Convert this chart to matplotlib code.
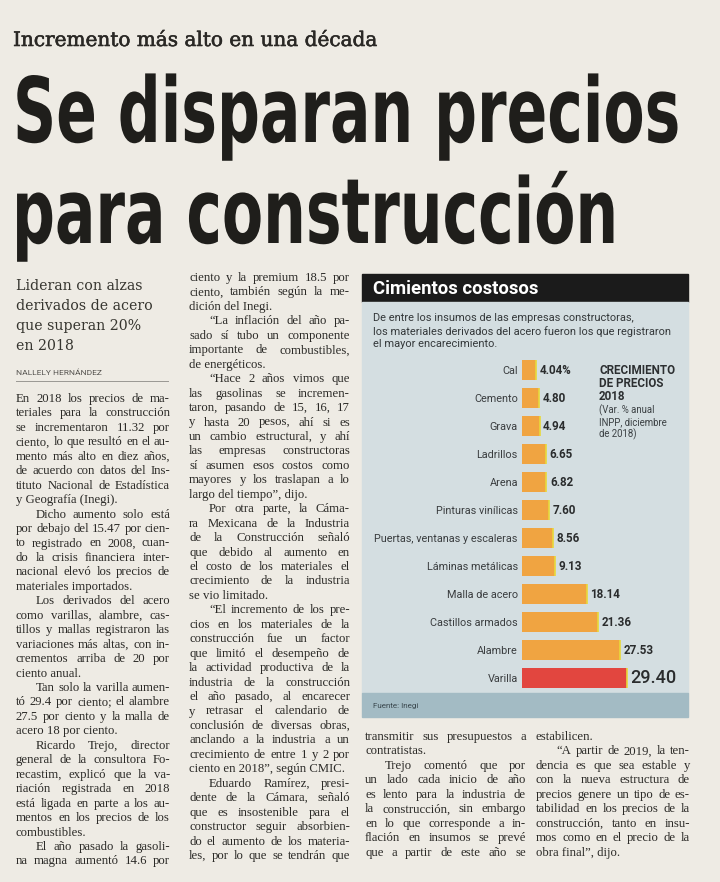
import matplotlib
matplotlib.use("Agg")
import matplotlib.pyplot as plt
from matplotlib.patches import Rectangle
from matplotlib.font_manager import FontProperties
from matplotlib.patheffects import AbstractPathEffect, withStroke
from matplotlib.transforms import Affine2D

# ---- chart data ----
cats = ['Cal', 'Cemento', 'Grava', 'Ladrillos', 'Arena', 'Pinturas vinílicas',
        'Puertas, ventanas y escaleras', 'Láminas metálicas', 'Malla de acero',
        'Castillos armados', 'Alambre', 'Varilla']
vals = [4.04, 4.80, 4.94, 6.65, 6.82, 7.60, 8.56, 9.13, 18.14, 21.36, 27.53, 29.40]
val_labels = ['4.04%', '4.80', '4.94', '6.65', '6.82', '7.60', '8.56', '9.13',
              '18.14', '21.36', '27.53', '29.40']

chart_title = 'Cimientos costosos'
chart_sub = ['De entre los insumos de las empresas constructoras,',
             'los materiales derivados del acero fueron los que registraron',
             'el mayor encarecimiento.']
note_bold = ['CRECIMIENTO', 'DE PRECIOS', '2018']
note_small = ['(Var. % anual', 'INPP, diciembre', 'de 2018)']
source = 'Fuente: Inegi'

# ---- article text ----
kicker = 'Incremento más alto en una década'
headline = ['Se disparan precios', 'para construcción']
deck = ['Lideran con alzas', 'derivados de acero', 'que superan 20%', 'en 2018']
byline = 'NALLELY HERNÁNDEZ'

# '>' marks first line of a paragraph
col1 = ['En 2018 los precios de ma-', 'teriales para la construcción',
        'se incrementaron 11.32 por', 'ciento, lo que resultó en el au-',
        'mento más alto en diez años,', 'de acuerdo con datos del Ins-',
        'tituto Nacional de Estadística', 'y Geografía (Inegi).',
        '>Dicho aumento solo está', 'por debajo del 15.47 por cien-',
        'to registrado en 2008, cuan-', 'do la crisis financiera inter-',
        'nacional elevó los precios de', 'materiales importados.',
        '>Los derivados del acero', 'como varillas, alambre, cas-',
        'tillos y mallas registraron las', 'variaciones más altas, con in-',
        'crementos arriba de 20 por', 'ciento anual.',
        '>Tan solo la varilla aumen-', 'tó 29.4 por ciento; el alambre',
        '27.5 por ciento y la malla de', 'acero 18 por ciento.',
        '>Ricardo Trejo, director', 'general de la consultora Fo-',
        'recastim, explicó que la va-', 'riación registrada en 2018',
        'está ligada en parte a los au-', 'mentos en los precios de los',
        'combustibles.',
        '>El año pasado la gasoli-', 'na magna aumentó 14.6 por']
col2 = ['ciento y la premium 18.5 por', 'ciento, también según la me-',
        'dición del Inegi.',
        '>“La inflación del año pa-', 'sado sí tubo un componente',
        'importante de combustibles,', 'de energéticos.',
        '>“Hace 2 años vimos que', 'las gasolinas se incremen-',
        'taron, pasando de 15, 16, 17', 'y hasta 20 pesos, ahí si es',
        'un cambio estructural, y ahí', 'las empresas constructoras',
        'sí asumen esos costos como', 'mayores y los traslapan a lo',
        'largo del tiempo”, dijo.',
        '>Por otra parte, la Cáma-', 'ra Mexicana de la Industria',
        'de la Construcción señaló', 'que debido al aumento en',
        'el costo de los materiales el', 'crecimiento de la industria',
        'se vio limitado.',
        '>“El incremento de los pre-', 'cios en los materiales de la',
        'construcción fue un factor', 'que limitó el desempeño de',
        'la actividad productiva de la', 'industria de la construcción',
        'el año pasado, al encarecer', 'y retrasar el calendario de',
        'conclusión de diversas obras,', 'anclando a la industria a un',
        'crecimiento de entre 1 y 2 por', 'ciento en 2018”, según CMIC.',
        '>Eduardo Ramírez, presi-', 'dente de la Cámara, señaló',
        'que es insostenible para el', 'constructor seguir absorbien-',
        'do el aumento de los materia-', 'les, por lo que se tendrán que']
col3 = ['transmitir sus presupuestos a', 'contratistas.',
        '>Trejo comentó que por', 'un lado cada inicio de año',
        'es lento para la industria de', 'la construcción, sin embargo',
        'en lo que corresponde a in-', 'flación en insumos se prevé',
        'que a partir de este año se']
col4 = ['estabilicen.',
        '>“A partir de 2019, la ten-', 'dencia es que sea estable y',
        'con la nueva estructura de', 'precios genere un tipo de es-',
        'tabilidad en los precios de la', 'construcción, tanto en insu-',
        'mos como en el precio de la', 'obra final”, dijo.']

W, H = 720, 882
paper = '#eeebe4'
ink = '#2b2a27'
sans = ['Roboto', 'DejaVu Sans']
serif = ['Liberation Serif', 'DejaVu Serif']

fig = plt.figure(figsize=(W / 100, H / 100), dpi=100)
fig.patch.set_facecolor(paper)
rend = fig.canvas.get_renderer()


class Squeeze(AbstractPathEffect):
    # rescale glyphs around the text origin (display px) to fake a condensed face
    def __init__(self, sx, sy, x0, y0):
        super().__init__()
        self.sx, self.sy, self.x0, self.y0 = sx, sy, x0, y0

    def draw_path(self, renderer, gc, tpath, affine, rgbFace=None):
        t = affine + Affine2D().translate(-self.x0, -self.y0).scale(self.sx, self.sy) \
            .translate(self.x0, self.y0)
        renderer.draw_path(gc, tpath, t, rgbFace)


def fx(x):
    return x / W


def fy(y):
    return 1 - y / H


def rect(x0, y0, x1, y1, color):
    fig.patches.append(Rectangle((fx(x0), fy(y1)), (x1 - x0) / W, (y1 - y0) / H,
                                 transform=fig.transFigure, color=color, zorder=-1))


def width_px(s, prop):
    w, h, d = rend.get_text_width_height_descent(s, prop, ismath=False)
    return w


def fit_size(s, family, weight, target):
    p = FontProperties(family=family, weight=weight, size=10)
    return 10 * target / width_px(s, p)


# ---- headline area ----
ks = fit_size(kicker, ['DejaVu Serif'], 'normal', 366)
fig.text(fx(13), fy(46), kicker, fontsize=ks, family='DejaVu Serif', color='#2a2825',
         va='baseline', path_effects=[withStroke(linewidth=0.4, foreground='#2a2825')])

# headline: DejaVu Sans Bold, narrowed to the condensed look of the original
hprop = FontProperties(family='DejaVu Sans', weight='bold', size=36)
sy = 65 / 36
sx = 668 / width_px(headline[0], hprop)
for (x0, yb), line in zip([(13, 142), (12, 243)], headline):
    fig.text(fx(x0), fy(yb), line, fontproperties=hprop, color='#1f1e1b', va='baseline',
             path_effects=[Squeeze(sx, sy, x0, H - yb)])

# deck + byline
for i, line in enumerate(deck):
    fig.text(fx(16), fy(290 + i * 20), line, fontsize=10.2, family='DejaVu Serif',
             color='#36352f', va='baseline')
fig.text(fx(16), fy(375), byline, fontsize=6.0, family=sans, color='#55534f', va='baseline')
fig.add_artist(plt.Line2D([fx(16), fx(168)], [fy(381), fy(381)], color='#9a9893', lw=0.7))

# ---- body columns ----
lead = 14.45
columns = [(col1, 16, 170, 402), (col2, 189, 350, 281), (col3, 365, 526, 740), (col4, 536, 690, 740)]


def is_last(lines, i):
    return (i + 1 < len(lines) and lines[i + 1].startswith('>')) or lines[i].endswith('dijo.')


# pick the body size so the tightest justified lines just fit
p10 = FontProperties(family=serif, size=10)
ratios = []
for lines, x0, x1, y0 in columns:
    for i, raw in enumerate(lines):
        if is_last(lines, i):
            continue
        ind = 20 if raw.startswith('>') else 0
        ratios.append((x1 - x0 - ind) / width_px(raw.lstrip('>'), p10))
ratios.sort()
body_size = min(10 * ratios[2], 10.2)
body_prop = FontProperties(family=serif, size=body_size)


def set_column(lines, x0, x1, y0):
    for i, raw in enumerate(lines):
        first = raw.startswith('>')
        text = raw.lstrip('>')
        y = y0 + i * lead
        xs = x0 + (20 if first else 0)
        words = text.split(' ')
        if is_last(lines, i) or len(words) == 1:
            fig.text(fx(xs), fy(y), text, fontproperties=body_prop, color=ink, va='baseline')
            continue
        ws = [width_px(w, body_prop) for w in words]
        gap = max((x1 - xs - sum(ws)) / (len(words) - 1), 1.5)
        cx = xs
        for w, wd in zip(words, ws):
            fig.text(fx(cx), fy(y), w, fontproperties=body_prop, color=ink, va='baseline')
            cx += wd + gap


for lines, x0, x1, y0 in columns:
    set_column(lines, x0, x1, y0)

# ---- chart panel ----
rect(362, 274, 688, 302, '#1b1b1b')
rect(362, 302, 688, 693, '#d4dee1')
rect(362, 693, 688, 717, '#a3bbc4')

fig.text(fx(373), fy(289), chart_title, fontsize=13.3, family=sans, weight='bold',
         color='white', va='center')
for i, line in enumerate(chart_sub):
    fig.text(fx(373), fy(318 + i * 13.2), line, fontsize=7.9, family=sans,
             color='#34383a', va='center')
for i, line in enumerate(note_bold):
    fig.text(fx(599), fy(370 + i * 13.5), line, fontsize=8.4, family=sans, weight='bold',
             color='#2c2f31', va='center')
for i, line in enumerate(note_small):
    fig.text(fx(599), fy(410 + i * 12.2), line, fontsize=6.9, family=sans,
             color='#3c4144', va='center')
fig.text(fx(373), fy(706), source, fontsize=5.8, family=sans, color='#3a474d', va='center')

px_per_unit = 3.57
ax = fig.add_axes([fx(522), fy(692), 150 / W, 336 / H])
ax.set_zorder(5)
ax.set_facecolor('none')
ax.set_xlim(0, 150 / px_per_unit)
ax.set_ylim(len(cats) - 0.5, -0.5)
ypos = list(range(len(cats)))
colors = ['#f0a441'] * (len(cats) - 1) + ['#e2463f']
ax.barh(ypos, vals, height=0.72, color=colors, zorder=2)
ax.vlines(vals, [y - 0.36 for y in ypos], [y + 0.36 for y in ypos], color='#e8d83a', lw=1.2, zorder=3)
for y, v, lab in zip(ypos, vals, val_labels):
    big = y == len(cats) - 1
    ax.text(v + 1.0, y, lab, va='center', ha='left', family=sans,
            fontsize=13 if big else 8.4, weight='medium' if big else 'bold',
            color='#2a2c2d')
ax.set_yticks(ypos, cats)
ax.tick_params(axis='y', length=0, pad=3, labelsize=7.8, labelcolor='#3a3d3f')
for lab in ax.get_yticklabels():
    lab.set_family(sans)
ax.set_xticks([])
for s in ax.spines.values():
    s.set_visible(False)

fig.savefig('out.png', dpi=100, facecolor=paper)
